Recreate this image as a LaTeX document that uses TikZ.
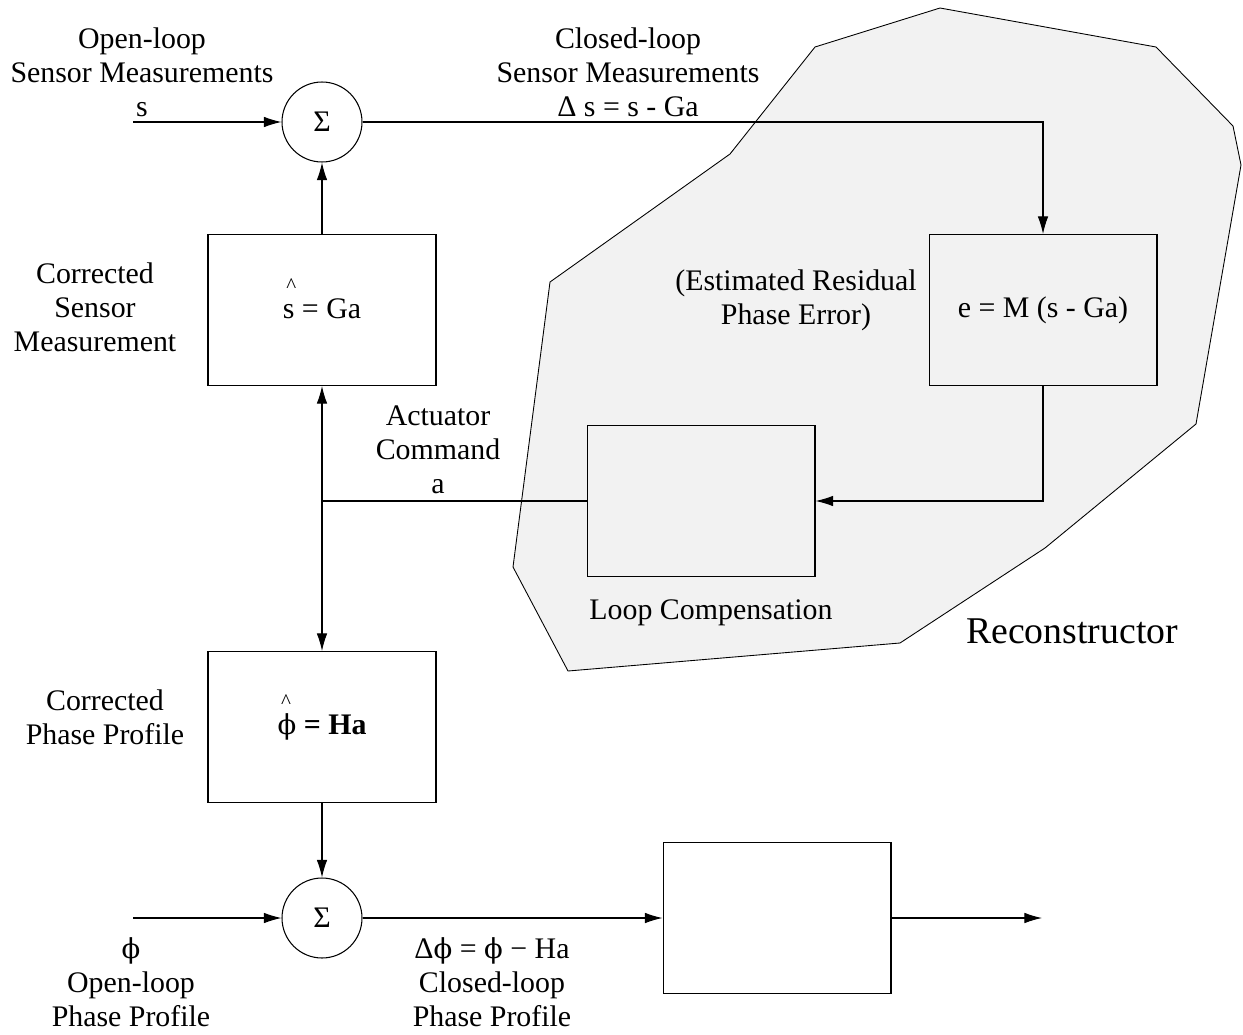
\documentclass[tikz,border=0pt]{standalone}
\usepackage{fontspec}
\setmainfont{Liberation Serif}
\newfontfamily\phifont[Scale=0.92]{DejaVu Serif}
\usetikzlibrary{arrows.meta}
\definecolor{recgray}{gray}{0.95}
\newcommand\uphi{{\phifont ϕ}}
\newcommand\hatted[1]{\makebox[0pt][l]{\hspace{0.12em}\smash{\raisebox{1.9ex}{\fontsize{12}{12}\selectfont\^{}}}}#1}

\begin{document}
\begin{tikzpicture}[x=0.02cm,y=-0.02cm,
    font=\fontsize{17}{19.4}\selectfont,
    line width=0.6pt, >={Latex[length=10pt,width=6pt]},
    sum/.style={draw,circle,minimum size=1.6cm,inner sep=0pt},
    block/.style={draw,minimum width=4.56cm,minimum height=3.02cm,inner sep=0pt},
    lbl/.style={align=center,inner sep=0pt}]
  \useasboundingbox (0,0) rectangle (1243,1034);
  \filldraw[fill=recgray,line width=0.5pt] (940,8) -- (1156,47) -- (1233,126)
    -- (1241,165) -- (1196,424) -- (1045,548) -- (900,643) -- (568,671)
    -- (513,567) -- (550,282) -- (730,154) -- (815,47) -- cycle;

  \node[sum] (S1) at (322,122) {Σ};
  \node[block] (G) at (322,310) {\raisebox{0.25ex}{\hatted{s} = Ga}};
  \node[block] (M) at (1043,310) {e = M (s - Ga)};
  \node[block] (C) at (701,501) {};
  \node[block] (H) at (322,727) {\hatted{\uphi} \textbf{= Ha}};
  \node[sum] (S2) at (322,918) {Σ};
  \node[block] (O) at (777,918) {};
  \coordinate (sin) at (133,122);
  \coordinate (act) at (322,501);
  \coordinate (pin) at (133,918);
  \coordinate (pout) at (1042,918);

  \node[lbl] (l1) at (142,72) {Open-loop\\Sensor Measurements\\s};
  \node[lbl] (l2) at (628,72) {Closed-loop\\Sensor Measurements\\Δ s = s - Ga};
  \node[lbl] (l3) at (95,307) {Corrected\\Sensor\\Measurement};
  \node[lbl] (l4) at (438,450) {Actuator\\Command\\a};
  \node[lbl] (l5) at (796,300) {(Estimated Residual\\Phase Error)};
  \node[lbl] (l6) at (711,613) {Loop Compensation};
  \node[lbl,font=\fontsize{21.5}{24}\selectfont] (l7) at (1072,631) {Reconstructor};
  \node[lbl] (l8) at (105,717) {Corrected\\Phase Profile};
  \node[lbl] (l9) at (131,982) {\uphi\\Open-loop\\Phase Profile};
  \node[lbl] (l10) at (492,982) {Δ\uphi{} = \uphi{} − Ha\\Closed-loop\\Phase Profile};

  \draw[->] (sin) -- (S1);
  \draw[->] (G) -- (S1);
  \draw[->] (S1) -| (M);
  \draw[->] (M) |- (C);
  \draw (C) -- (act);
  \draw[<->] (G) -- (H);
  \draw[->] (H) -- (S2);
  \draw[->] (pin) -- (S2);
  \draw[->] (S2) -- (O);
  \draw[->] (O) -- (pout);
\end{tikzpicture}
\end{document}
